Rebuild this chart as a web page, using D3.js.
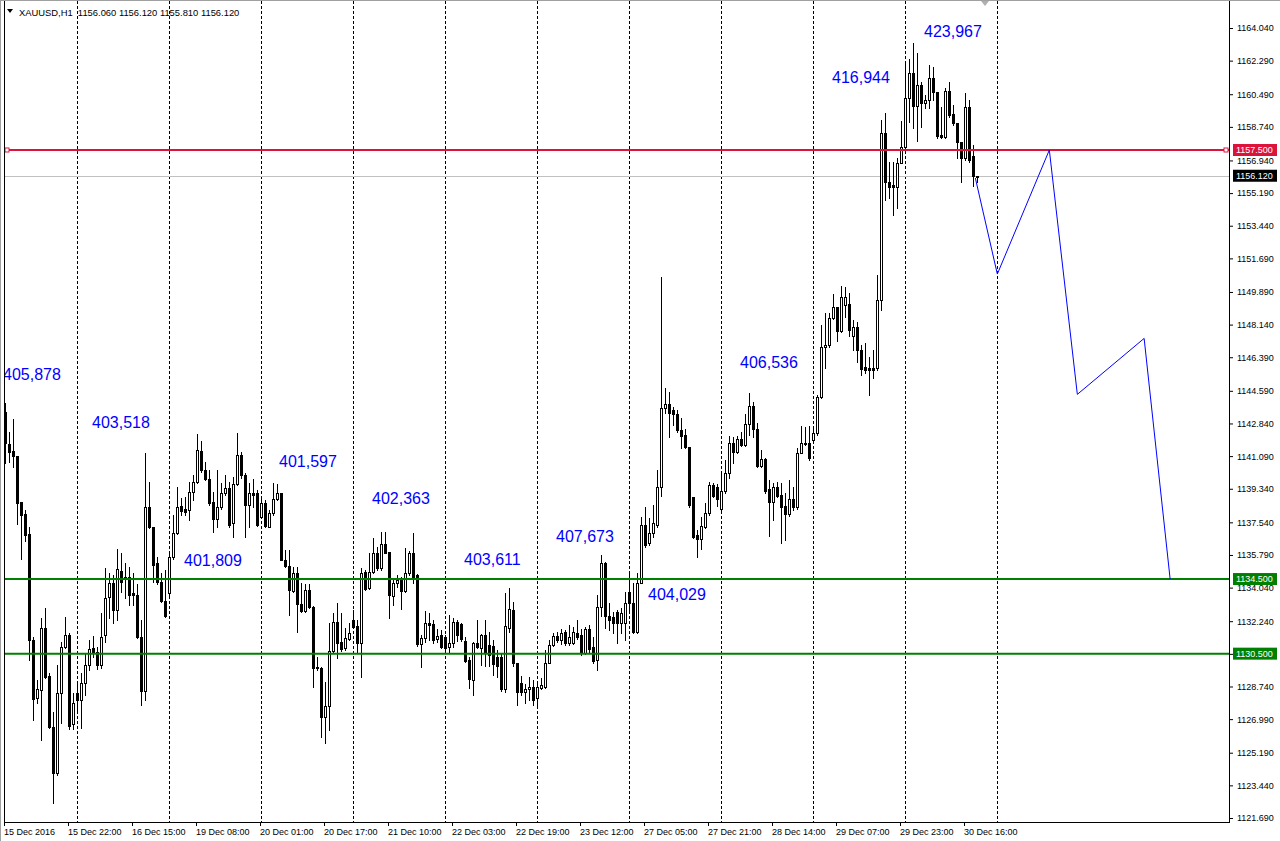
<!DOCTYPE html>
<html>

<head>
    <meta charset='utf-8'>
    <title>XAUUSD,H1</title>
    <script type='text/javascript' src='https://cdn.jsdelivr.net/npm/d3@7/dist/d3.min.js'></script>
    <style>
        body { margin: 0; background: #fff; }
        svg { display: block; font-family: 'Liberation Sans', Arial, sans-serif; }
    </style>
</head>

<body>
    <svg width='1280' height='841'></svg>
    <script type='text/javascript'>

        // hourly bars, index 0 = first bar on the left
        const open = [
            1143.47, 1141.74, 1141.38, 1141.10, 1138.65, 1137.97, 1136.91, 1131.23, 1128.10, 1128.55,
            1131.86, 1129.30, 1126.59, 1124.12, 1128.41, 1130.87, 1131.50, 1126.71, 1128.37, 1128.02,
            1128.91, 1129.89, 1130.78, 1130.61, 1129.89, 1131.50, 1133.52, 1134.27, 1132.84, 1134.95,
            1134.48, 1134.62, 1133.73, 1133.64, 1131.37, 1128.51, 1138.34, 1137.27, 1135.34, 1134.32,
            1133.32, 1133.73, 1135.66, 1136.98, 1138.41, 1138.23, 1138.19, 1139.18, 1139.71, 1141.38,
            1140.34, 1139.84, 1138.64, 1137.70, 1138.34, 1139.09, 1139.36, 1137.48, 1139.59, 1141.14,
            1140.08, 1138.47, 1139.09, 1139.13, 1137.84, 1138.59, 1137.31, 1138.02, 1138.77, 1139.09,
            1135.52, 1135.20, 1133.88, 1134.84, 1133.14, 1132.80, 1133.91, 1133.02, 1129.77, 1129.71,
            1127.12, 1127.69, 1130.66, 1132.21, 1131.14, 1130.78, 1131.27, 1132.30, 1131.98, 1131.09,
            1134.89, 1134.00, 1134.89, 1135.91, 1135.07, 1136.37, 1135.93, 1133.58, 1134.27, 1134.48,
            1133.87, 1134.80, 1135.87, 1134.71, 1131.01, 1131.32, 1132.12, 1132.08, 1131.26, 1131.50,
            1131.37, 1130.87, 1131.05, 1132.21, 1132.08, 1131.19, 1130.15, 1129.08, 1131.08, 1130.83,
            1131.50, 1130.96, 1130.91, 1130.34, 1130.34, 1128.58, 1131.85, 1132.84, 1130.01, 1128.94,
            1128.46, 1128.58, 1128.73, 1128.10, 1128.64, 1128.73, 1130.01, 1130.96, 1131.44, 1131.23,
            1131.68, 1131.05, 1131.05, 1131.62, 1131.50, 1130.51, 1131.80, 1130.84, 1130.16, 1133.02,
            1135.34, 1132.52, 1132.45, 1132.75, 1132.16, 1132.16, 1133.83, 1133.24, 1131.68, 1134.27,
            1137.40, 1136.45, 1136.95, 1137.40, 1139.42, 1143.65, 1143.89, 1143.56, 1143.35, 1142.49,
            1142.22, 1141.56, 1138.92, 1136.86, 1136.63, 1137.31, 1138.02, 1139.54, 1139.45, 1138.24,
            1139.24, 1140.16, 1141.77, 1141.33, 1141.99, 1141.68, 1142.81, 1143.78, 1142.52, 1140.56,
            1140.92, 1139.31, 1138.65, 1139.45, 1139.00, 1138.42, 1137.97, 1138.77, 1138.38, 1141.28,
            1141.81, 1141.77, 1141.95, 1142.31, 1144.24, 1146.96, 1147.05, 1148.47, 1149.06, 1147.81,
            1149.19, 1149.24, 1147.53, 1147.99, 1146.77, 1145.85, 1145.79, 1145.79, 1145.79, 1149.46,
            1158.39, 1155.80, 1155.62, 1155.53, 1156.82, 1157.68, 1160.27, 1161.61, 1159.86, 1160.98,
            1160.04, 1160.18, 1161.34, 1160.62, 1158.30, 1158.18, 1160.68, 1159.43, 1158.93, 1157.94,
            1157.05, 1159.78, 1157.18, 1156.06
        ]
        const high = [
            1143.92, 1142.40, 1143.06, 1141.10, 1138.65, 1138.20, 1137.31, 1131.40, 1129.09, 1132.39,
            1132.93, 1129.45, 1127.39, 1129.89, 1131.14, 1132.48, 1131.59, 1128.40, 1129.00, 1129.44,
            1130.52, 1131.23, 1131.45, 1130.87, 1132.66, 1135.07, 1134.80, 1134.72, 1136.09, 1135.88,
            1135.34, 1135.16, 1134.80, 1134.26, 1132.30, 1141.23, 1139.71, 1137.30, 1135.69, 1134.80,
            1134.98, 1135.96, 1137.93, 1139.45, 1138.82, 1138.91, 1139.71, 1140.07, 1142.30, 1141.91,
            1140.79, 1140.34, 1139.18, 1140.34, 1139.63, 1140.07, 1139.71, 1139.98, 1142.34, 1141.32,
            1140.20, 1139.63, 1139.84, 1139.27, 1138.91, 1138.74, 1138.20, 1139.66, 1139.59, 1139.13,
            1136.06, 1136.06, 1135.16, 1135.16, 1134.27, 1134.23, 1134.23, 1133.05, 1130.34, 1129.80,
            1129.00, 1132.12, 1132.66, 1133.20, 1132.66, 1131.86, 1132.12, 1132.84, 1132.30, 1135.07,
            1134.98, 1135.87, 1136.68, 1136.23, 1137.03, 1137.03, 1135.93, 1134.53, 1134.71, 1134.62,
            1136.14, 1136.02, 1136.98, 1134.76, 1131.50, 1132.80, 1132.66, 1132.30, 1131.80, 1131.76,
            1131.50, 1132.57, 1132.39, 1132.33, 1132.12, 1131.41, 1130.33, 1131.14, 1132.30, 1131.55,
            1132.30, 1131.68, 1131.23, 1130.70, 1130.48, 1133.73, 1134.00, 1133.28, 1130.01, 1129.30,
            1128.90, 1129.23, 1129.08, 1129.00, 1129.17, 1130.69, 1131.23, 1131.59, 1131.68, 1131.80,
            1131.76, 1132.03, 1131.91, 1132.30, 1131.80, 1131.91, 1132.03, 1131.41, 1133.64, 1135.79,
            1135.40, 1133.20, 1132.75, 1132.84, 1132.93, 1133.83, 1134.81, 1134.27, 1134.81, 1137.85,
            1138.35, 1137.76, 1138.47, 1140.35, 1150.71, 1144.73, 1144.55, 1143.74, 1143.56, 1143.12,
            1142.53, 1141.56, 1138.92, 1137.13, 1137.85, 1138.56, 1139.72, 1139.63, 1139.60, 1140.26,
            1140.88, 1142.17, 1142.13, 1142.17, 1142.40, 1143.35, 1144.45, 1144.01, 1142.85, 1141.42,
            1140.97, 1139.81, 1139.67, 1139.72, 1139.63, 1139.09, 1139.81, 1139.45, 1141.51, 1142.70,
            1142.67, 1142.70, 1142.67, 1144.36, 1148.12, 1148.74, 1148.74, 1149.78, 1149.06, 1150.21,
            1150.17, 1149.81, 1148.38, 1148.29, 1147.04, 1147.13, 1146.42, 1146.77, 1150.80, 1159.11,
            1159.46, 1156.87, 1156.87, 1157.05, 1159.07, 1162.15, 1162.36, 1163.22, 1162.71, 1161.16,
            1160.45, 1162.05, 1161.96, 1160.62, 1159.82, 1160.80, 1161.16, 1159.91, 1158.96, 1157.94,
            1160.53, 1160.18, 1157.76, 1156.12
        ]
        const low = [
            1140.70, 1140.79, 1140.52, 1137.45, 1135.57, 1136.54, 1130.16, 1126.94, 1127.87, 1125.87,
            1129.20, 1126.50, 1122.51, 1124.00, 1126.77, 1130.80, 1126.44, 1126.44, 1127.48, 1126.50,
            1128.28, 1129.62, 1130.34, 1129.66, 1129.71, 1131.14, 1132.39, 1132.12, 1132.30, 1133.82,
            1133.46, 1133.10, 1133.10, 1131.32, 1127.74, 1128.01, 1137.21, 1134.35, 1134.26, 1133.28,
            1132.48, 1133.64, 1135.60, 1136.94, 1137.93, 1137.93, 1137.66, 1138.73, 1139.63, 1140.25,
            1139.80, 1138.46, 1137.03, 1137.30, 1138.28, 1139.00, 1137.30, 1136.77, 1139.54, 1139.89,
            1136.73, 1137.31, 1138.38, 1137.34, 1137.75, 1137.31, 1137.27, 1137.93, 1138.74, 1135.52,
            1135.16, 1132.57, 1133.82, 1131.68, 1132.75, 1132.75, 1132.93, 1128.73, 1129.62, 1126.05,
            1125.69, 1126.41, 1130.61, 1130.25, 1130.66, 1130.70, 1131.23, 1131.86, 1130.61, 1129.27,
            1133.90, 1133.94, 1134.80, 1134.98, 1134.98, 1135.87, 1132.39, 1133.10, 1134.09, 1132.92,
            1133.82, 1134.71, 1134.27, 1130.90, 1129.80, 1131.14, 1131.23, 1131.05, 1131.10, 1130.78,
            1130.60, 1130.60, 1130.87, 1131.19, 1131.19, 1130.06, 1128.64, 1128.28, 1130.83, 1129.89,
            1129.83, 1129.83, 1129.35, 1129.26, 1128.51, 1128.46, 1131.68, 1129.83, 1127.75, 1128.28,
            1127.83, 1128.01, 1127.75, 1127.57, 1128.58, 1128.64, 1129.98, 1130.90, 1131.14, 1131.01,
            1130.96, 1130.96, 1131.01, 1131.26, 1130.42, 1130.46, 1130.60, 1129.98, 1129.62, 1132.52,
            1131.86, 1131.77, 1131.59, 1131.09, 1131.63, 1131.23, 1132.70, 1131.59, 1131.63, 1134.27,
            1136.24, 1136.30, 1136.77, 1137.31, 1138.95, 1143.38, 1142.14, 1142.76, 1142.40, 1141.51,
            1141.51, 1138.38, 1136.69, 1135.70, 1136.10, 1137.22, 1137.93, 1138.88, 1138.40, 1138.17,
            1139.10, 1139.90, 1140.74, 1141.24, 1141.63, 1141.63, 1142.22, 1142.13, 1140.52, 1140.49,
            1139.10, 1136.80, 1137.66, 1138.88, 1136.41, 1136.59, 1137.88, 1138.20, 1138.24, 1141.24,
            1141.68, 1140.88, 1141.86, 1142.22, 1144.19, 1145.80, 1146.96, 1148.42, 1147.28, 1147.76,
            1148.56, 1147.53, 1146.77, 1146.15, 1145.43, 1145.55, 1144.36, 1145.26, 1145.70, 1148.92,
            1154.82, 1154.91, 1154.01, 1154.37, 1156.78, 1157.59, 1159.02, 1158.66, 1158.00, 1158.75,
            1159.73, 1159.73, 1160.18, 1158.12, 1158.12, 1158.12, 1159.28, 1158.84, 1157.05, 1155.80,
            1156.96, 1156.87, 1155.57, 1155.81
        ]
        const close = [
            1141.78, 1141.33, 1141.10, 1138.59, 1137.93, 1136.86, 1131.23, 1128.05, 1128.59, 1131.86,
            1129.27, 1126.59, 1124.12, 1128.41, 1130.87, 1131.50, 1126.64, 1127.84, 1128.02, 1128.91,
            1129.89, 1130.73, 1130.61, 1129.89, 1131.41, 1133.47, 1134.27, 1132.84, 1135.02, 1134.36,
            1134.62, 1133.64, 1133.64, 1131.37, 1128.51, 1138.34, 1137.27, 1135.25, 1134.32, 1133.32,
            1132.53, 1135.66, 1136.98, 1138.37, 1138.16, 1138.12, 1139.18, 1139.71, 1141.41, 1140.34,
            1139.84, 1138.59, 1137.70, 1138.34, 1139.09, 1139.36, 1137.39, 1139.59, 1141.14, 1140.07,
            1138.47, 1139.09, 1139.00, 1137.40, 1138.59, 1137.34, 1138.02, 1138.77, 1139.09, 1135.52,
            1135.20, 1133.91, 1134.84, 1133.14, 1132.80, 1133.91, 1133.02, 1129.71, 1129.71, 1127.12,
            1127.69, 1130.66, 1132.21, 1131.09, 1130.73, 1131.32, 1131.62, 1131.95, 1131.09, 1134.84,
            1133.94, 1134.89, 1135.91, 1135.07, 1136.37, 1135.91, 1133.64, 1134.27, 1134.45, 1133.87,
            1134.80, 1135.91, 1134.62, 1131.01, 1131.32, 1132.12, 1132.03, 1131.23, 1131.44, 1130.87,
            1130.83, 1131.08, 1132.21, 1131.50, 1131.26, 1130.12, 1129.12, 1131.08, 1130.87, 1131.50,
            1130.55, 1130.42, 1129.94, 1129.83, 1128.58, 1131.98, 1132.87, 1129.98, 1128.46, 1128.46,
            1128.58, 1128.73, 1128.01, 1128.73, 1128.82, 1130.01, 1130.96, 1131.44, 1131.23, 1131.62,
            1131.05, 1131.41, 1131.68, 1131.41, 1130.51, 1131.80, 1130.73, 1130.12, 1133.02, 1135.34,
            1132.52, 1132.30, 1132.13, 1132.13, 1132.70, 1133.24, 1133.24, 1131.68, 1134.27, 1137.40,
            1136.33, 1136.99, 1137.49, 1139.42, 1143.65, 1143.89, 1143.39, 1143.35, 1142.49, 1142.17,
            1141.60, 1138.47, 1136.78, 1136.63, 1137.35, 1138.02, 1139.54, 1138.95, 1138.78, 1139.24,
            1140.16, 1141.77, 1141.33, 1141.99, 1141.68, 1142.81, 1143.78, 1142.52, 1140.56, 1140.92,
            1139.24, 1138.65, 1139.42, 1138.95, 1138.38, 1137.97, 1138.77, 1138.38, 1141.28, 1141.81,
            1141.74, 1140.97, 1142.31, 1144.28, 1146.96, 1147.05, 1148.47, 1149.06, 1147.81, 1149.64,
            1149.63, 1147.85, 1147.99, 1146.77, 1145.74, 1145.70, 1145.70, 1145.70, 1149.46, 1158.39,
            1155.80, 1155.53, 1155.53, 1156.82, 1157.68, 1160.27, 1161.61, 1159.86, 1160.98, 1160.04,
            1160.18, 1161.34, 1160.62, 1158.25, 1158.18, 1160.68, 1159.37, 1158.93, 1157.94, 1157.05,
            1159.78, 1156.96, 1156.10, 1156.12
        ]

        // time axis: label every 16 bars
        const timeTickIndex = [0, 16, 32, 48, 64, 80, 96, 112, 128, 144, 160, 176, 192, 208, 224, 240]
        const timeTickLabel = ['15 Dec 2016', '15 Dec 22:00', '16 Dec 15:00', '19 Dec 08:00', '20 Dec 01:00',
            '20 Dec 17:00', '21 Dec 10:00', '22 Dec 03:00', '22 Dec 19:00', '23 Dec 12:00', '27 Dec 05:00',
            '27 Dec 21:00', '28 Dec 14:00', '29 Dec 07:00', '29 Dec 23:00', '30 Dec 16:00']
        // day separators (bar index of first bar of each day)
        const separatorIndex = [18, 41, 64, 87, 110, 133, 156, 179, 202, 225, 248]

        const priceTicks = [1164.04, 1162.29, 1160.49, 1158.74, 1156.94, 1155.19, 1153.44, 1151.69, 1149.89,
            1148.14, 1146.39, 1144.59, 1142.84, 1141.09, 1139.34, 1137.54, 1135.79, 1134.04, 1132.24, 1130.49,
            1128.74, 1126.99, 1125.19, 1123.44, 1121.69]

        // horizontal levels and current bid
        const levelPrices = [1157.5, 1134.5, 1130.5]
        const bidPrice = 1156.12

        // hand drawn projection
        const projIndex = [242.5, 248, 261, 268, 284.7, 291.2]
        const projPrice = [1156.0, 1150.85, 1157.5, 1144.4, 1147.4, 1134.5]

        // text notes on the chart
        const noteText = ['405,878', '403,518', '401,809', '401,597', '402,363', '403,611', '407,673', '404,029', '406,536', '416,944', '423,967']
        const noteIndex = [-0.58, 21.67, 44.67, 68.42, 91.67, 114.67, 137.67, 160.67, 183.67, 206.67, 229.67]
        const notePrice = [1145.49, 1142.92, 1135.52, 1140.83, 1138.84, 1135.57, 1136.81, 1133.70, 1146.13, 1161.41, 1163.88]

        const header = 'XAUUSD,H1  1156.060 1156.120 1155.810 1156.120'

        const svg = d3.select('svg')
        const chart = { left: 4, right: 1229, top: 0, bottom: 822 }
        const levelColors = ['#dc143c', '#008000', '#008000']

        const x = d3.scaleLinear([0, open.length - 1], [5.33, 5.33 + 4 * (open.length - 1)])
        const y = d3.scaleLinear([1121.69, 1164.04], [818, 28])
        const px = i => Math.round(x(i))
        const py = v => Math.round(y(v))

        svg.append('rect').attr('width', 1280).attr('height', 841).attr('fill', '#fff')

        const clip = svg.append('clipPath').attr('id', 'plot').append('rect')
            .attr('x', chart.left + 1).attr('y', 0).attr('width', chart.right - chart.left - 1).attr('height', chart.bottom)
        const g = svg.append('g').attr('clip-path', 'url(#plot)')

        // day separators
        g.selectAll('.sep').data(separatorIndex).join('line')
            .attr('x1', d => px(d) + 0.5).attr('x2', d => px(d) + 0.5)
            .attr('y1', 1).attr('y2', chart.bottom)
            .attr('stroke', '#000').attr('stroke-dasharray', '3,2')

        // bid line
        g.append('line')
            .attr('x1', chart.left).attr('x2', chart.right)
            .attr('y1', py(bidPrice) + 0.5).attr('y2', py(bidPrice) + 0.5)
            .attr('stroke', '#c0c0c0')

        // candles
        const bars = d3.range(open.length)
        g.selectAll('.wick').data(bars).join('line')
            .attr('x1', i => px(i) + 0.5).attr('x2', i => px(i) + 0.5)
            .attr('y1', i => py(Math.max(high[i], open[i], close[i])))
            .attr('y2', i => py(Math.min(low[i], open[i], close[i])) + 1)
            .attr('stroke', '#000')

        g.selectAll('.body').data(bars).join('rect')
            .each(function (i) {
                const top = py(Math.max(open[i], close[i]))
                const bot = py(Math.min(open[i], close[i]))
                const r = d3.select(this)
                if (close[i] >= open[i]) {
                    r.attr('x', px(i) - 0.5).attr('y', top + 0.5).attr('width', 2).attr('height', Math.max(bot - top, 0))
                        .attr('fill', '#fff').attr('stroke', '#000')
                } else {
                    r.attr('x', px(i) - 1).attr('y', top).attr('width', 3).attr('height', bot - top + 1)
                        .attr('fill', '#000')
                }
            })

        // horizontal levels
        g.selectAll('.level').data(levelPrices).join('line')
            .attr('x1', chart.left).attr('x2', chart.right)
            .attr('y1', d => y(d)).attr('y2', d => y(d))
            .attr('stroke', (d, i) => levelColors[i]).attr('stroke-width', 2)

        // selected red level end markers
        g.selectAll('.handle').data([chart.left + 3, chart.right - 3]).join('rect')
            .attr('x', d => d - 2).attr('y', Math.round(y(levelPrices[0])) - 2)
            .attr('width', 4).attr('height', 4)
            .attr('fill', '#fff').attr('stroke', levelColors[0])

        // projection line
        const projLine = d3.line().x(d => x(d[0])).y(d => y(d[1]))
        g.append('path')
            .attr('d', projLine(d3.zip(projIndex, projPrice)))
            .attr('fill', 'none').attr('stroke', '#0000ff').attr('stroke-width', 1)

        // notes
        g.selectAll('.note').data(noteText).join('text')
            .attr('x', (d, i) => x(noteIndex[i]))
            .attr('y', (d, i) => y(notePrice[i]))
            .attr('dy', '0.35em')
            .attr('font-size', '16px')
            .attr('fill', '#0000ff')
            .text(d => d)

        // frame
        svg.append('line').attr('x1', 0.5).attr('x2', 0.5).attr('y1', 0).attr('y2', 841).attr('stroke', '#a0a0a0')
        svg.append('line').attr('x1', 0).attr('x2', 1280).attr('y1', 0.5).attr('y2', 0.5).attr('stroke', '#a0a0a0')
        svg.append('line').attr('x1', chart.left + 0.5).attr('x2', chart.left + 0.5).attr('y1', 1).attr('y2', chart.bottom + 1).attr('stroke', '#000')
        svg.append('line').attr('x1', chart.right + 0.5).attr('x2', chart.right + 0.5).attr('y1', 1).attr('y2', chart.bottom + 1).attr('stroke', '#000')
        svg.append('line').attr('x1', chart.left).attr('x2', chart.right + 1).attr('y1', chart.bottom + 0.5).attr('y2', chart.bottom + 0.5).attr('stroke', '#000')

        // price axis
        const yAxis = d3.axisRight(y).tickValues(priceTicks).tickFormat(d3.format('.3f')).tickSize(3).tickPadding(4)
        const gy = svg.append('g').attr('transform', `translate(${chart.right + 1},0)`).call(yAxis)
        gy.select('.domain').remove()
        gy.selectAll('.tick line').attr('stroke', '#000')
        gy.selectAll('.tick text').attr('font-size', '9px').attr('font-family', "'Liberation Sans', Arial, sans-serif").attr('fill', '#000')

        // price labels (levels + bid)
        const tagPrices = levelPrices.concat([bidPrice])
        const tagColors = levelColors.concat(['#000'])
        const tags = svg.selectAll('.tag').data(tagPrices).join('g')
            .attr('transform', d => `translate(${chart.right + 4},${y(d)})`)
        tags.append('rect').attr('x', 0).attr('y', -6).attr('width', 44).attr('height', 12)
            .attr('fill', (d, i) => tagColors[i])
        tags.append('text').attr('x', 3).attr('dy', '0.35em')
            .attr('font-size', '9px').attr('fill', '#fff')
            .text(d => d3.format('.3f')(d))

        // time axis
        const gx = svg.append('g')
        gx.selectAll('line').data(timeTickIndex).join('line')
            .attr('x1', d => px(d) - 0.5).attr('x2', d => px(d) - 0.5)
            .attr('y1', chart.bottom).attr('y2', chart.bottom + 4)
            .attr('stroke', '#000')
        gx.selectAll('text').data(timeTickLabel).join('text')
            .attr('x', (d, i) => px(timeTickIndex[i]) - 1)
            .attr('y', 835)
            .attr('font-size', '9px')
            .text(d => d)

        // header
        svg.append('path').attr('d', 'M7,9 L13,9 L10,13 Z').attr('fill', '#000')
        svg.append('text').attr('x', 19).attr('y', 15.5).attr('font-size', '9.4px').attr('xml:space', 'preserve').text(header)

        // chart shift marker
        svg.append('path')
            .attr('d', `M${px(245) - 4},1 L${px(245) + 4},1 L${px(245)},6 Z`)
            .attr('fill', '#b0b0b0')
    </script>
</body>

</html>
